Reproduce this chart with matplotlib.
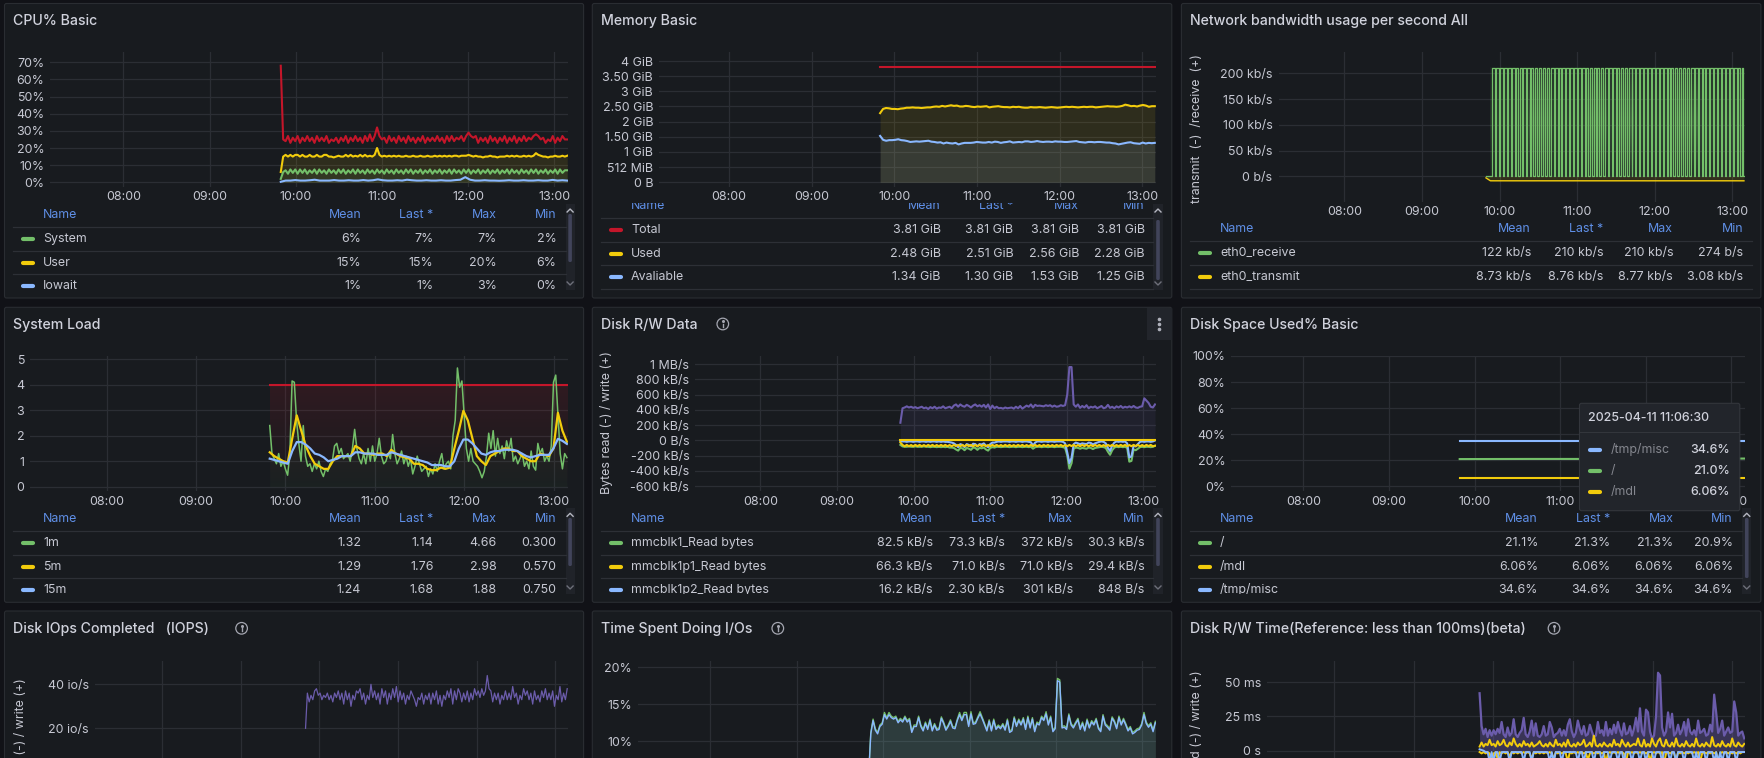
import numpy as np
import matplotlib
matplotlib.use("Agg")
import matplotlib.pyplot as plt
from matplotlib.patches import Circle, FancyBboxPatch, Rectangle

plt.rcParams['font.family'] = ['Inter', 'DejaVu Sans']

W, H = 1765, 758
PAGE = '#111217'
PANEL = '#181b1f'
BORDER = '#2a2d32'
GRID = '#2b2e34'
TEXT = '#c6c8d2'
TITLE = '#d0d2dc'
HEADER = '#5f8fe6'
DIVIDER = '#2d3036'
GREEN, YELLOW, BLUE, RED, PURPLE = '#73bf69', '#f2cc0c', '#8ab8ff', '#c4162a', '#6b5cab'
FONT = 8.95

START, END = 9.826, 13.15

hour_ticks = [8, 9, 10, 11, 12, 13]
hour_labels = ['08:00', '09:00', '10:00', '11:00', '12:00', '13:00']

# CPU% Basic
cpu_ticks = [0, 10, 20, 30, 40, 50, 60, 70]
cpu_tick_labels = ['0%', '10%', '20%', '30%', '40%', '50%', '60%', '70%']
cpu_busy = [68, 25, 24, 27, 23, 26, 24, 27, 23, 26,
            24, 27, 24, 26, 23, 27, 24, 26, 24, 27,
            23, 25, 24, 26, 23, 26, 24, 27, 23, 26,
            24, 27, 24, 26, 23, 27, 24, 28, 24, 27,
            32, 27, 25, 26, 23, 27, 24, 26, 23, 27,
            24, 26, 23, 27, 24, 26, 23, 26, 24, 27,
            23, 26, 24, 26, 24, 27, 24, 26, 23, 27,
            24, 27, 24, 26, 25, 27, 24, 27, 29, 27,
            26, 27, 23, 26, 24, 26, 23, 27, 24, 26,
            23, 26, 24, 27, 23, 26, 24, 27, 23, 26,
            24, 27, 24, 26, 25, 27, 28, 27, 25, 26,
            23, 25, 24, 27, 23, 26, 24, 27, 25, 25]
cpu_user = [6, 15, 16, 15, 16, 15, 16, 16, 15, 16,
            15, 15, 16, 15, 15, 16, 15, 15, 16, 16,
            15, 15, 14.5, 15, 15.5, 15, 15, 16, 15, 16,
            15, 15.5, 15, 16, 15, 16, 15, 15.5, 15, 16,
            20, 16, 15, 15.5, 15, 15.5, 15, 15.5, 15, 15.5,
            15, 15, 15.5, 15, 15, 15.5, 15, 15, 15.5, 15,
            15, 15.5, 15, 15, 15.5, 15, 15.5, 15, 15.5, 15,
            15.5, 15, 15.5, 15.5, 15, 15.5, 15.5, 15.5, 16, 15.5,
            15, 15.5, 15, 15, 14.5, 15, 15, 15.5, 15, 15,
            14.5, 15, 15, 15, 15.5, 15, 15.5, 15, 15.5, 15,
            15, 15.5, 15, 15.5, 15, 15.5, 17, 16, 15.5, 15,
            15, 14.5, 15, 15, 15.5, 15, 15, 15.5, 15, 15.5]
cpu_system = [2, 6, 7, 5, 7.5, 5.5, 7.5, 5, 7.5, 5.5,
              7.5, 5, 7, 5.5, 7.5, 5, 7.5, 5.5, 7, 5,
              7.5, 5.5, 7, 5, 7.5, 5.5, 7.5, 5, 7, 5.5,
              7.5, 5, 7.5, 5.5, 7, 5, 7.5, 5.5, 7, 5,
              7.5, 5.5, 7, 5, 7.5, 5.5, 7, 5, 7.5, 5.5,
              7, 5, 7.5, 5.5, 7.5, 5, 7, 5.5, 7.5, 5,
              7, 5.5, 7.5, 5, 7, 5.5, 7.5, 5, 7, 5.5,
              7.5, 5, 7.5, 5.5, 7, 5, 7.5, 5.5, 7.5, 5,
              7, 5.5, 7.5, 5, 7, 5.5, 7.5, 5, 7, 5.5,
              7.5, 5, 7, 5.5, 7.5, 5, 7.5, 5.5, 7, 5,
              7.5, 5.5, 7, 5, 7.5, 5.5, 7.5, 5, 7, 5.5,
              7.5, 5, 7, 5.5, 7.5, 5, 7.5, 5.5, 7, 7]
cpu_iowait = [0.3, 1, 1, 1.3, 1, 1, 1.2, 1.5, 1, 1,
              1, 1.3, 1, 1, 1.2, 1, 1, 1.3, 1, 1.2,
              1.7, 1.2, 1, 1, 1.2, 1, 1.5, 1.2, 1, 1,
              1.2, 1, 1, 1.2, 1, 1, 1.3, 1.5, 3, 1.5,
              1, 1, 1.2, 1, 1, 0.9, 1, 1.2, 1, 1,
              1.2, 1, 1, 1.2, 1, 1, 1.4, 1, 1.2, 1]
cpu_names = ['System', 'User', 'Iowait']
cpu_stats = [['6%', '7%', '7%', '2%'], ['15%', '15%', '20%', '6%'], ['1%', '1%', '3%', '0%']]

# Memory Basic
mem_ticks = [0, 0.5, 1, 1.5, 2, 2.5, 3, 3.5, 4]
mem_tick_labels = ['0 B', '512 MiB', '1 GiB', '1.50 GiB', '2 GiB', '2.50 GiB', '3 GiB', '3.50 GiB', '4 GiB']
mem_total = [3.81, 3.81]
mem_used = [2.28, 2.42, 2.45, 2.44, 2.42, 2.42, 2.41, 2.43, 2.44, 2.46,
            2.46, 2.47, 2.46, 2.46, 2.45, 2.46, 2.47, 2.47, 2.49, 2.5,
            2.49, 2.52, 2.5, 2.52, 2.54, 2.52, 2.53, 2.5, 2.5, 2.52,
            2.51, 2.49, 2.48, 2.5, 2.49, 2.5, 2.51, 2.47, 2.49, 2.5,
            2.51, 2.49, 2.48, 2.48, 2.47, 2.49, 2.48, 2.49, 2.47, 2.46,
            2.46, 2.48, 2.47, 2.47, 2.48, 2.47, 2.46, 2.47, 2.48, 2.47,
            2.46, 2.47, 2.48, 2.49, 2.48, 2.49, 2.48, 2.47, 2.48, 2.49,
            2.48, 2.49, 2.49, 2.47, 2.48, 2.49, 2.5, 2.51, 2.5, 2.5,
            2.49, 2.5, 2.52, 2.56, 2.54, 2.51, 2.52, 2.5, 2.53, 2.55,
            2.53, 2.49, 2.51, 2.51]
mem_avail = [1.53, 1.4, 1.37, 1.39, 1.39, 1.4, 1.42, 1.39, 1.38, 1.36,
             1.33, 1.34, 1.35, 1.34, 1.35, 1.36, 1.37, 1.34, 1.33, 1.31,
             1.32, 1.28, 1.31, 1.29, 1.28, 1.3, 1.25, 1.28, 1.3, 1.3,
             1.3, 1.31, 1.33, 1.32, 1.31, 1.31, 1.33, 1.31, 1.34, 1.33,
             1.3, 1.32, 1.33, 1.35, 1.31, 1.32, 1.33, 1.32, 1.35, 1.35,
             1.33, 1.34, 1.36, 1.34, 1.33, 1.34, 1.34, 1.33, 1.35, 1.34,
             1.34, 1.33, 1.33, 1.34, 1.35, 1.36, 1.33, 1.32, 1.31, 1.33,
             1.33, 1.32, 1.33, 1.33, 1.32, 1.31, 1.31, 1.29, 1.28, 1.25,
             1.27, 1.29, 1.31, 1.32, 1.29, 1.28, 1.27, 1.31, 1.28, 1.3,
             1.29, 1.3]
mem_names = ['Total', 'Used', 'Avaliable']
mem_stats = [['3.81 GiB', '3.81 GiB', '3.81 GiB', '3.81 GiB'],
             ['2.48 GiB', '2.51 GiB', '2.56 GiB', '2.28 GiB'],
             ['1.34 GiB', '1.30 GiB', '1.53 GiB', '1.25 GiB']]

# Network bandwidth
net_ticks = [0, 50, 100, 150, 200]
net_tick_labels = ['0 b/s', '50 kb/s', '100 kb/s', '150 kb/s', '200 kb/s']
net_receive = [0, 0, 0, 0, 0, 0, 0, 210, 210, 210, 0, 210, 210, 210, 0, 210, 210, 210, 0, 210, 210, 210,
               0, 210, 210, 210, 0, 210, 210, 210, 0, 210, 210, 0, 0, 210, 210, 0, 0, 210, 210, 210,
               0, 210, 210, 210, 0, 210, 210, 0, 0, 210, 210, 0, 0, 210, 210, 0,
               0, 210, 210, 0, 0, 210, 210, 0, 0, 210, 210, 210, 0, 210, 210, 210,
               0, 210, 210, 210, 0, 210, 210, 210, 0, 210, 210, 210, 0, 210, 210, 210,
               0, 210, 210, 210, 0, 210, 210, 210, 0, 210, 210, 210, 0, 210, 210, 0,
               0, 210, 210, 0, 0, 210, 210, 0, 0, 210, 210, 0, 0, 210, 210, 0,
               0, 210, 210, 210, 0, 210, 210, 210, 0, 210, 210, 210, 0, 210, 210, 0,
               0, 210, 210, 0, 0, 210, 210, 0, 0, 210, 210, 210, 0, 210, 210, 210,
               0, 210, 210, 210, 0, 210, 210, 210, 0, 210, 210, 210, 0, 210, 210, 210,
               0, 210, 210, 210, 0, 210, 210, 210, 0, 210, 210, 210, 0, 210, 210, 210,
               0, 210, 210, 210, 0, 210, 210, 0, 0, 210, 210, 0, 0, 210, 210, 0,
               0, 210, 210, 0, 0, 210, 210, 0, 0, 210, 210, 210, 0, 210, 210, 210,
               0, 210, 210, 210, 0, 210, 210, 210, 0, 210, 210, 210, 0, 210, 210, 210,
               0, 210, 210, 210, 0, 210, 210, 210, 0, 210, 210, 210, 0, 210, 210, 210,
               0, 210, 210, 210, 0, 210, 210, 210, 0, 210, 210, 0, 0, 210, 210, 0]
net_transmit = [-3.08, -8.7, -8.73, -8.73, -8.72, -8.73, -8.73, -8.73, -8.74, -8.73,
                -8.73, -8.73, -8.72, -8.73, -8.73, -8.74, -8.73, -8.73, -8.73, -8.73,
                -8.73, -8.72, -8.73, -8.73, -8.73, -8.74, -8.73, -8.73, -8.73, -8.73,
                -8.73, -8.73, -8.72, -8.73, -8.73, -8.74, -8.73, -8.77, -8.73, -8.73,
                -8.73, -8.74, -8.73, -8.73, -8.72, -8.73, -8.73, -8.73, -8.74, -8.73,
                -8.73, -8.72, -8.73, -8.73, -8.74, -8.73, -8.73, -8.73, -8.75, -8.76]
net_names = ['eth0_receive', 'eth0_transmit']
net_stats = [['122 kb/s', '210 kb/s', '210 kb/s', '274 b/s'],
             ['8.73 kb/s', '8.76 kb/s', '8.77 kb/s', '3.08 kb/s']]

# System Load
load_ticks = [0, 1, 2, 3, 4, 5]
load_tick_labels = ['0', '1', '2', '3', '4', '5']
load_cores = [4, 4]
load_1m = [2.4, 1.3, 1.1, 0.9, 1.3, 0.8, 1.0, 0.7, 0.45, 1.3,
           4.15, 4.1, 2.6, 1.7, 1.0, 2.4, 1.2, 0.8, 0.9, 0.6,
           0.9, 0.7, 1.0, 0.6, 0.4, 0.7, 0.6, 0.9, 1.0, 1.6,
           1.7, 1.3, 1.5, 1.1, 1.2, 1.3, 1.0, 1.5, 2.25, 1.5,
           1.1, 0.9, 1.3, 0.9, 1.5, 1.0, 1.6, 1.0, 1.3, 1.9,
           1.2, 0.9, 1.0, 1.3, 1.1, 2.05, 1.3, 0.9, 1.1, 1.4,
           0.9, 1.2, 0.8, 1.1, 0.5, 0.8, 1.2, 0.9, 0.6, 0.7,
           0.8, 0.4, 0.7, 0.5, 0.9, 0.6, 1.0, 1.3, 0.7, 0.9,
           1.0, 0.7, 2.0, 2.6, 4.66, 3.9, 4.15, 2.8, 1.5, 1.0,
           1.5, 1.0, 0.9, 0.8, 0.6, 0.35, 0.6, 1.2, 2.1, 1.5,
           2.2, 1.2, 1.9, 1.3, 1.6, 1.1, 1.8, 1.4, 1.9, 1.0,
           1.2, 0.9, 1.1, 1.3, 0.8, 1.0, 0.7, 1.4, 0.8, 0.65,
           1.7, 1.3, 1.5, 1.0, 1.2, 1.0, 1.6, 4.1, 4.38, 2.8,
           1.3, 0.7, 1.3, 1.14]
load_5m = [1.35, 1.2, 1.1, 1.0, 0.95, 1.9, 2.8, 2.2, 1.6, 1.2,
           0.9, 0.8, 0.7, 0.7, 1.0, 1.2, 1.2, 1.2, 1.2, 1.6,
           1.5, 1.3, 1.3, 1.25, 1.3, 1.3, 1.2, 1.45, 1.3, 1.2,
           1.15, 1.1, 0.9, 0.9, 0.85, 0.7, 0.65, 0.65, 0.75, 0.7,
           0.75, 1.5, 2.2, 2.98, 2.6, 1.9, 1.2, 1.0, 0.85, 1.2,
           1.3, 1.4, 1.5, 1.5, 1.4, 1.4, 1.2, 1.1, 1.0, 1.0,
           1.3, 1.25, 1.2, 1.5, 2.9, 2.2, 1.76]
load_15m = [1.1, 1.05, 1.0, 0.95, 0.9, 1.4, 1.75, 1.75, 1.65, 1.5,
            1.3, 1.25, 1.15, 1.0, 1.05, 1.1, 1.2, 1.2, 1.2, 1.35,
            1.35, 1.3, 1.3, 1.3, 1.25, 1.25, 1.25, 1.35, 1.3, 1.25,
            1.2, 1.15, 1.1, 1.05, 1.0, 0.95, 0.85, 0.85, 0.85, 0.8,
            0.8, 1.0, 1.5, 1.85, 1.85, 1.7, 1.5, 1.3, 1.25, 1.35,
            1.4, 1.4, 1.45, 1.45, 1.45, 1.4, 1.3, 1.2, 1.15, 1.2,
            1.25, 1.25, 1.25, 1.5, 1.88, 1.8, 1.68]
load_names = ['1m', '5m', '15m']
load_stats = [['1.32', '1.14', '4.66', '0.300'], ['1.29', '1.76', '2.98', '0.570'], ['1.24', '1.68', '1.88', '0.750']]

# Disk R/W Data, kB/s
rw_ticks = [-600, -400, -200, 0, 200, 400, 600, 800, 1000]
rw_tick_labels = ['-600 kB/s', '-400 kB/s', '-200 kB/s', '0 B/s', '200 kB/s', '400 kB/s', '600 kB/s', '800 kB/s', '1 MB/s']
rw_write = [230, 420, 430, 445, 430, 440, 425, 435, 420, 430,
            440, 420, 430, 410, 435, 420, 440, 415, 430, 425,
            445, 420, 430, 440, 420, 455, 470, 440, 470, 450,
            440, 465, 450, 430, 455, 470, 445, 460, 440, 465,
            430, 470, 410, 455, 420, 440, 420, 425, 415, 430,
            420, 425, 430, 415, 440, 420, 450, 415, 435, 455,
            440, 470, 430, 465, 450, 455, 450, 445, 460, 450,
            460, 440, 455, 440, 445, 460, 450, 460, 600, 960,
            960, 470, 440, 470, 425, 450, 430, 460, 420, 440,
            430, 445, 420, 435, 450, 420, 430, 465, 425, 440,
            420, 445, 430, 450, 425, 440, 430, 445, 430, 450,
            430, 425, 440, 445, 550, 520, 490, 440, 430, 470]
rw_read_disk = [-60, -80, -85, -85, -80, -85, -85, -80, -85, -85,
                -85, -80, -85, -85, -90, -85, -85, -90, -85, -90,
                -85, -90, -85, -95, -95, -100, -120, -135, -100, -105,
                -130, -100, -110, -125, -95, -100, -125, -100, -105, -95,
                -120, -135, -100, -90, -95, -85, -85, -90, -85, -85,
                -85, -90, -85, -85, -90, -85, -85, -90, -85, -85,
                -90, -85, -110, -90, -85, -85, -90, -85, -85, -90,
                -85, -85, -90, -85, -85, -85, -90, -100, -200, -372,
                -300, -110, -95, -100, -110, -100, -105, -110, -95, -100,
                -115, -100, -95, -90, -85, -90, -100, -150, -190, -130,
                -95, -85, -90, -85, -90, -85, -100, -280, -270, -120,
                -130, -110, -90, -85, -90, -85, -85, -90, -85, -73]
rw_read_p2 = [-10, -15, -15, -20, -15, -15, -20, -15, -15, -20,
              -15, -15, -20, -15, -20, -15, -15, -20, -15, -20,
              -15, -20, -20, -25, -30, -40, -60, -90, -50, -60,
              -90, -50, -60, -80, -45, -50, -80, -50, -55, -40,
              -70, -90, -50, -30, -30, -20, -15, -20, -15, -15,
              -15, -20, -15, -15, -20, -15, -15, -20, -15, -15,
              -20, -25, -70, -30, -15, -15, -20, -15, -15, -20,
              -15, -15, -20, -15, -15, -15, -20, -40, -160, -301,
              -230, -50, -30, -40, -50, -40, -45, -50, -30, -35,
              -55, -40, -30, -20, -15, -20, -40, -100, -140, -70,
              -30, -15, -20, -15, -20, -15, -40, -225, -210, -70,
              -80, -50, -20, -15, -20, -15, -15, -20, -15, -2]
rw_read_p1 = [-29, -60, -78, -60, -78, -62, -78, -60, -76, -60,
              -78, -62, -78, -60, -76, -60, -78, -62, -78, -60,
              -76, -60, -78, -62, -78, -60, -76, -60, -78, -62,
              -78, -60, -76, -60, -78, -62, -78, -60, -76, -60,
              -78, -62, -78, -60, -76, -60, -78, -62, -78, -60,
              -76, -60, -78, -62, -78, -60, -76, -60, -78, -62,
              -78, -60, -76, -60, -78, -62, -78, -60, -76, -60,
              -78, -62, -78, -60, -76, -60, -78, -62, -78, -60,
              -76, -60, -78, -62, -78, -60, -76, -60, -78, -62,
              -78, -60, -76, -60, -78, -62, -78, -60, -76, -60,
              -78, -62, -78, -60, -76, -60, -78, -62, -78, -60,
              -76, -60, -78, -62, -78, -60, -76, -60, -78, -71]
rw_zero_line = [0, 0]
rw_names = ['mmcblk1_Read bytes', 'mmcblk1p1_Read bytes', 'mmcblk1p2_Read bytes']
rw_stats = [['82.5 kB/s', '73.3 kB/s', '372 kB/s', '30.3 kB/s'],
            ['66.3 kB/s', '71.0 kB/s', '71.0 kB/s', '29.4 kB/s'],
            ['16.2 kB/s', '2.30 kB/s', '301 kB/s', '848 B/s']]

# Disk Space Used%
space_ticks = [0, 20, 40, 60, 80, 100]
space_tick_labels = ['0%', '20%', '40%', '60%', '80%', '100%']
space_root = [20.9, 21.0, 21.0, 21.1, 21.3]
space_mdl = [6.06, 6.06]
space_tmp = [34.6, 34.6]
space_names = ['/', '/mdl', '/tmp/misc']
space_stats = [['21.1%', '21.3%', '21.3%', '20.9%'],
               ['6.06%', '6.06%', '6.06%', '6.06%'],
               ['34.6%', '34.6%', '34.6%', '34.6%']]
tooltip_time = '2025-04-11 11:06:30'
tooltip_names = ['/tmp/misc', '/', '/mdl']
tooltip_values = ['34.6%', '21.0%', '6.06%']

# Disk IOps Completed
iops_ticks = [20, 40]
iops_tick_labels = ['20 io/s', '40 io/s']
iops_write = [20, 36, 32, 35, 33, 37, 38, 35, 36, 33,
              35, 34, 36, 33, 35, 32, 36, 34, 37, 33,
              36, 31, 37, 33, 36, 30, 35, 33, 37, 36,
              38, 33, 36, 31, 35, 33, 40, 34, 37, 33,
              36, 31, 38, 34, 37, 31, 36, 33, 38, 34,
              39, 32, 37, 33, 36, 31, 35, 33, 37, 35,
              33, 30, 34, 33, 36, 31, 35, 33, 36, 31,
              36, 33, 37, 31, 35, 30, 35, 33, 37, 34,
              38, 31, 37, 33, 38, 36, 32, 36, 33, 37,
              32, 36, 33, 38, 35, 37, 34, 38, 35, 37,
              44, 38, 37, 32, 36, 33, 36, 31, 35, 33,
              37, 33, 36, 33, 39, 34, 36, 31, 35, 33,
              38, 35, 37, 33, 36, 31, 37, 33, 35, 32,
              37, 34, 38, 33, 36, 33, 37, 30, 35, 33,
              39, 32, 36, 33, 38]
io_ylabel = 'IO read (-) / write (+)'

# Time Spent Doing I/Os
busy_ticks = [10, 15, 20]
busy_tick_labels = ['10%', '15%', '20%']
busy_p2 = [5, 11, 12.8, 11.5, 11, 12, 12.3, 13.6, 13, 13.6,
           13.2, 13, 13.2, 12.5, 12.9, 12.6, 13.2, 12.6, 12.9, 11.2,
           12, 12, 13.2, 12, 11.4, 12.4, 11.6, 12.8, 11.4, 12.2,
           11.5, 11.6, 13.1, 12.4, 11.5, 12, 12.7, 11.8, 11.7, 12.8,
           13.6, 12.8, 13.6, 13.6, 12, 13.7, 12.3, 12.4, 13.1, 13.7,
           13, 12.2, 11.4, 12.7, 11.4, 12.8, 11.6, 12, 11.7, 12.2,
           11.5, 12.8, 11.2, 11.4, 13.1, 12, 12.8, 12.2, 13, 11.6,
           13.2, 11.8, 13, 11.3, 12.4, 12.2, 13.2, 12.8, 13.7, 12.2,
           13.2, 11.3, 11.7, 18.2, 18, 11.8, 11.9, 11.6, 13.5, 12.2,
           11.8, 12.4, 12.9, 11.6, 12.4, 11.4, 12.8, 11.8, 12.6, 12.2,
           12.9, 11.7, 11.3, 13.4, 12.2, 11.9, 11.5, 13.1, 12.6, 11.7,
           13.2, 12.2, 12.9, 12.2, 11.4, 11.8, 11, 11.2, 11.5, 11.6,
           12.2, 13.6, 12.4, 11.9, 12.3, 11.3, 12.5]
busy_disk = [5.2, 11.2, 13, 11.7, 11.2, 12.2, 12.5, 13.9, 13.2, 13.9,
             13.4, 13.2, 13.4, 12.7, 13.1, 12.8, 13.4, 12.8, 13.1, 11.4,
             12.2, 12.2, 13.4, 12.2, 11.6, 12.6, 11.8, 13, 11.6, 12.4,
             11.7, 11.8, 13.3, 12.6, 11.7, 12.2, 12.9, 12, 11.9, 13,
             13.9, 13, 13.9, 13.9, 12.2, 14, 12.5, 12.6, 13.3, 14,
             13.2, 12.4, 11.6, 12.9, 11.6, 13, 11.8, 12.2, 11.9, 12.4,
             11.7, 13, 11.4, 11.6, 13.3, 12.2, 13, 12.4, 13.2, 11.8,
             13.4, 12, 13.2, 11.5, 12.6, 12.4, 13.4, 13, 14, 12.4,
             13.4, 11.5, 11.9, 18.5, 18.3, 12, 12.1, 11.8, 13.7, 12.4,
             12, 12.6, 13.1, 11.8, 12.6, 11.6, 13, 12, 12.8, 12.4,
             13.1, 11.9, 11.5, 13.6, 12.4, 12.1, 11.7, 13.3, 12.8, 11.9,
             13.4, 12.4, 13.1, 12.4, 11.6, 12, 11.2, 11.4, 11.7, 11.8,
             12.4, 13.9, 12.6, 12.1, 12.5, 11.5, 12.7]

# Disk R/W Time, ms
lat_ticks = [0, 25, 50]
lat_tick_labels = ['0 s', '25 ms', '50 ms']
lat_write = [42, 18, 12, 16, 10, 15, 11, 15, 12, 16,
             13, 21, 12, 10, 17, 11, 13, 23, 12, 10,
             13, 15, 24, 12, 10, 14, 22, 11, 20, 11,
             10, 12, 18, 11, 12, 21, 17, 10, 12, 13,
             16, 11, 15, 11, 19, 23, 14, 10, 13, 22,
             16, 12, 18, 11, 12, 19, 14, 10, 11, 21,
             13, 15, 11, 21, 11, 16, 12, 19, 13, 21,
             15, 11, 20, 12, 13, 18, 11, 16, 24, 14,
             31, 14, 11, 30, 28, 14, 9, 11, 25, 57,
             55, 17, 11, 14, 28, 17, 27, 11, 13, 19,
             12, 15, 21, 11, 23, 14, 12, 15, 11, 22,
             13, 14, 16, 11, 12, 19, 14, 41, 28, 13,
             16, 22, 11, 14, 17, 13, 14, 36, 28, 11,
             13, 14, 9]
lat_write_p1 = [3, 6, 3, 5, 4, 8, 4, 5, 3, 7,
                4, 5, 8, 4, 3, 6, 4, 9, 5, 3,
                5, 3, 7, 4, 5, 3, 6, 3, 4, 5,
                7, 4, 3, 5, 3, 6, 4, 3, 8, 4,
                5, 3, 6, 3, 8, 4, 3, 5, 3, 6,
                4, 5, 8, 3, 4, 6, 3, 11, 4, 3,
                5, 3, 6, 4, 3, 5, 3, 8, 4, 5,
                3, 8, 5, 3, 6, 3, 4, 5, 4, 9,
                4, 3, 8, 3, 5, 3, 9, 5, 3, 7,
                9, 4, 3, 8, 4, 3, 6, 3, 9, 4,
                3, 5, 3, 7, 4, 3, 5, 3, 9, 4,
                3, 5, 3, 6, 4, 3, 10, 4, 3, 5,
                3, 7, 4, 3, 5, 3, 9, 4, 3, 6,
                4, 3, 5]
lat_read_p1 = [-1, -2, -1, -2, -1, -2, -8, -2, -1, -6,
               -1, -2, -1, -2, -1, -4, -1, -2, -1, -2,
               -1, -2, -1, -2, -1, -2, -6, -1, -2, -1,
               -2, -1, -2, -1, -2, -1, -2, -6, -1, -2,
               -1, -2, -1, -2, -8, -1, -2, -1, -2, -1,
               -2, -1, -2, -1, -7, -2, -1, -2, -1, -2,
               -1, -2, -1, -9, -2, -1, -2, -1, -2, -1,
               -2, -1, -2, -9, -1, -2, -1, -2, -1, -2,
               -1, -2, -1, -2, -1, -8, -2, -1, -2, -1,
               -2, -1, -9, -2, -1, -2, -1, -2, -7, -1,
               -2, -1, -2, -1, -2, -1, -2, -1, -2, -1,
               -8, -2, -1, -2, -1, -2, -1, -2, -1, -9,
               -2, -1, -2, -1, -2, -1, -2, -1, -2, -1,
               -2, -1, -1]
lat_read = [1, 0.5, 0, -1, -1, -8, -1, -8, -1, -1,
            -8, -1, -1, -1, -1, -8, -1, -1, -1, -1,
            -1, -1, -8, -1, -1, -1, -8, -1, -1, -1,
            -1, -1, -1, -1, -1, -8, -1, -8, -1, -1,
            -1, -8, -1, -1, -1, -1, -1, -1, -1, -8,
            -1, -1, -8, -1, -1, -1, -1, -8, -1, -1,
            -1, -8, -1, -1, -1, -8, -1, -1, -1, -8,
            -1, -1, -8, -1, -1, -1, -8, -1, -1, -1,
            -8, -1, -1, -8, -1, -1, -1, -8, -1, -1,
            -1, -8, -1, -1, -1, -8, -1, -1, -8, -1,
            -1, -1, -8, -1, -1, -1, -1, -8, -1, -8,
            -1, -1, -1, -8, -1, -1, -1, -8, -1, -8,
            -1, -8, -1, -1, -8, -1, -1, -1, -8, -1,
            -1, -1, -1]
lat_ylabel = 'Read (-) / write (+)'


fig = plt.figure(figsize=(W / 100, H / 100), dpi=100, facecolor=PAGE)
canvas = fig.add_axes([0, 0, 1, 1], zorder=0)
canvas.set_xlim(0, W)
canvas.set_ylim(H, 0)
canvas.axis('off')
top_layer = fig.add_axes([0, 0, 1, 1], zorder=5)
top_layer.set_xlim(0, W)
top_layer.set_ylim(H, 0)
top_layer.axis('off')
top_layer.patch.set_alpha(0)


def panel(left, right, top, bottom, title, title_x, title_y):
    canvas.add_patch(FancyBboxPatch((left, top), right - left, bottom - top, boxstyle='round,pad=0,rounding_size=2',
                                    fc=PANEL, ec=BORDER, lw=0.8))
    canvas.text(title_x, title_y + 0.8, title, color=TITLE, fontsize=10.2, fontweight=500, va='center', ha='left')


def plot_axes(left, right, top, bottom, x_cal, y_cal, yticks, ylabels, xlabels=True, ylabel_pad=4.4):
    ax = fig.add_axes([left / W, 1 - bottom / H, (right - left) / W, (bottom - top) / H], zorder=2)
    ax.patch.set_alpha(0)
    for s in ax.spines.values():
        s.set_visible(False)
    (px8, px13) = x_cal
    per_hour = (px13 - px8) / 5
    ax.set_xlim(8 + (left - px8) / per_hour, 8 + (right - px8) / per_hour)
    (v1, p1), (v2, p2) = y_cal
    per_px = (v2 - v1) / (p1 - p2)
    ax.set_ylim(v1 - (bottom - p1) * per_px, v1 + (p1 - top) * per_px)
    ax.set_xticks(hour_ticks)
    ax.set_xticklabels(hour_labels if xlabels else [])
    ax.set_yticks(yticks)
    ax.set_yticklabels(ylabels)
    ax.tick_params(length=0, labelsize=FONT, labelcolor=TEXT)
    ax.tick_params(axis='x', pad=3.4)
    ax.tick_params(axis='y', pad=ylabel_pad)
    ax.grid(True, color=GRID, lw=0.9)
    ax.set_axisbelow(True)
    return ax


def series(ax, values, color, lw=1.5, start=START, end=END, fill=None, zorder=3, step=False):
    t = np.linspace(start, end, len(values))
    ax.plot(t, values, color=color, lw=lw, zorder=zorder, solid_joinstyle='round',
            drawstyle='steps-mid' if step else 'default')
    if fill:
        ax.fill_between(t, values, 0, color=color, alpha=fill, lw=0, zorder=2)


def gradient(ax, color, x0, x1, y0, y1, alphas):
    rgba = np.zeros((64, 1, 4))
    rgba[:, 0, :3] = matplotlib.colors.to_rgb(color)
    rgba[:, 0, 3] = np.interp(np.linspace(0, 1, 64), np.linspace(0, 1, len(alphas)), alphas)
    xl, yl = ax.get_xlim(), ax.get_ylim()
    ax.imshow(rgba, extent=[x0, x1, y0, y1], aspect='auto', zorder=1.5, interpolation='bilinear', origin='upper')
    ax.set_xlim(xl)
    ax.set_ylim(yl)


def legend_table(name_x, swatch_x, rights, header_y, rows_y, lines_y, x0, x1, names, colors, stats, clip=None):
    clip_rect = None
    if clip:
        clip_rect = Rectangle((x0 - 20, clip[0]), x1 - x0 + 40, clip[1] - clip[0], transform=canvas.transData)

    def put(x, y, s, color, ha):
        txt = canvas.text(x, y, s, color=color, fontsize=FONT, va='center', ha=ha)
        if clip_rect is not None:
            txt.set_clip_path(clip_rect)
            txt.set_clip_on(True)

    put(name_x, header_y, 'Name', HEADER, 'left')
    for x, label in zip(rights, ['Mean', 'Last *', 'Max', 'Min']):
        put(x, header_y, label, HEADER, 'right')
    for y in lines_y:
        canvas.plot([x0, x1], [y, y], color=DIVIDER, lw=0.9)
    for y, name, color, row in zip(rows_y, names, colors, stats):
        canvas.plot([swatch_x + 2, swatch_x + 12], [y, y], color=color, lw=3, solid_capstyle='round')
        put(name_x, y, name, TEXT, 'left')
        for x, value in zip(rights, row):
            put(x, y, value, TEXT, 'right')


def scrollbar(x0, x1, top, bottom, thumb_top, thumb_bottom):
    canvas.add_patch(Rectangle((x0, top), x1 - x0, bottom - top, fc='#202329', ec='none'))
    mid = (x0 + x1) / 2
    canvas.add_patch(FancyBboxPatch((mid - 1.8, thumb_top), 3.6, thumb_bottom - thumb_top,
                                    boxstyle='round,pad=0,rounding_size=1.5', fc='#41445a', ec='none'))
    canvas.plot([mid - 3, mid, mid + 3], [top + 8, top + 5, top + 8], color='#b5b7c1', lw=1)
    canvas.plot([mid - 3, mid, mid + 3], [bottom - 8, bottom - 5, bottom - 8], color='#6d6f79', lw=1)


def info_icon(x, y):
    canvas.add_patch(Circle((x, y), 5.8, fc='none', ec='#a4a6b0', lw=0.9))
    canvas.plot([x, x], [y - 0.5, y + 2.7], color='#a4a6b0', lw=1)
    canvas.plot([x], [y - 2.6], marker='o', ms=1.2, color='#a4a6b0')


def rotated_label(x, top, s):
    canvas.text(x, top, s, color=TEXT, fontsize=FONT, rotation=90, ha='center', va='top')


# panel frames
panel(4.5, 583.6, 3.5, 298, 'CPU% Basic', 13.3, 20)
panel(592.3, 1171.8, 3.5, 298, 'Memory Basic', 601.3, 20)
panel(1181.4, 1760.9, 3.5, 298, 'Network bandwidth usage per second All', 1190.4, 20)
panel(4.5, 583.6, 307.3, 602.3, 'System Load', 13.3, 324)
panel(592.3, 1171.8, 307.3, 602.3, 'Disk R/W Data', 601.3, 324)
panel(1181.4, 1760.9, 307.3, 602.3, 'Disk Space Used% Basic', 1190.4, 324)
panel(4.5, 583.6, 611, 790, 'Disk IOps Completed\u00a0\u00a0\u00a0(IOPS)', 13.3, 628.3)
panel(592.3, 1171.8, 611, 790, 'Time Spent Doing I/Os', 601.3, 628.3)
panel(1181.4, 1760.9, 611, 790, 'Disk R/W Time(Reference: less than 100ms)(beta)', 1190.4, 628.3)

info_icon(722.8, 324)
info_icon(241.6, 628.3)
info_icon(777.8, 628.3)
info_icon(1554, 628.3)

# hover menu on the Disk R/W Data panel
canvas.add_patch(Rectangle((1147, 307.8), 24.6, 32.2, fc='#22252b', ec='none'))
canvas.plot([1159, 1159, 1159], [319, 324, 329], ls='', marker='o', ms=1.6, color='#aeb0ba')

# CPU
ax = plot_axes(50.4, 567.5, 52.3, 186.7, (123.4, 554.3), ((0, 182.3), (70, 62.3)), cpu_ticks, cpu_tick_labels)
series(ax, cpu_busy, RED)
series(ax, cpu_user, YELLOW, fill=0.1)
series(ax, cpu_system, GREEN, fill=0.07)
series(ax, cpu_iowait, BLUE)
legend_table(43.3, 21.4, [361.2, 433.5, 497, 556.5], 215, [239, 262.7, 285.7], [227.3, 251.3, 274.3], 13.2, 565.6,
             cpu_names, [GREEN, YELLOW, BLUE], cpu_stats)
scrollbar(565.6, 574.6, 204, 290, 214, 262)

# Memory
ax = plot_axes(659.2, 1155.6, 52.3, 186.7, (729.2, 1142.4), ((0, 182.3), (4, 61)), mem_ticks, mem_tick_labels)
series(ax, mem_total, RED)
series(ax, mem_used, YELLOW, fill=0.1)
series(ax, mem_avail, BLUE, fill=0.1)
legend_table(631, 608.8, [940.7, 1013.3, 1079.2, 1144.7], 205.7, [229.7, 253.7, 276.7], [218.3, 242.3, 265.3, 289.3], 601, 1153.3,
             mem_names, [RED, YELLOW, BLUE], mem_stats, clip=(202.5, 300))
scrollbar(1153.3, 1162.7, 204, 290, 220, 280)

# Network
ax = plot_axes(1278.5, 1745, 52.3, 201.7, (1344.3, 1732.3), ((0, 176.3), (200, 73.3)), net_ticks, net_tick_labels)
gradient(ax, GREEN, 9.88, END, 0, 210, [0.05, 0.16, 0.05])
for glow_start, glow_end in [(10.38, 10.66), (11.13, 11.38), (11.55, 11.72), (12.27, 12.55)]:
    gradient(ax, GREEN, glow_start, glow_end, 0, 210, [0.0, 0.28, 0.0])
series(ax, net_receive, GREEN, lw=0.9, step=True)
series(ax, net_transmit, YELLOW, lw=1, fill=0.12)
rotated_label(1196.8, 54, 'transmit\u00a0\u00a0(-)\u00a0\u00a0/receive\u00a0\u00a0(+)')
legend_table(1220.2, 1198.3, [1531, 1603.2, 1673.2, 1743.6], 228.7, [252.7, 276.7], [241.3, 265.3, 289.3], 1190.4, 1751.9,
             net_names, [GREEN, YELLOW], net_stats)

# System Load
ax = plot_axes(30.5, 567.5, 356, 491, (106.5, 553.5), ((0, 486.7), (5, 359.3)), load_ticks, load_tick_labels)
gradient(ax, RED, START, END, 0, 4, [0.14, 0.0])
series(ax, load_cores, RED)
series(ax, load_1m, GREEN, lw=1.1, zorder=3.1, fill=0.04)
series(ax, load_5m, YELLOW, lw=1.6, zorder=3.2)
series(ax, load_15m, BLUE, lw=1.6, zorder=3.3)
legend_table(43.3, 21.4, [361.2, 433.5, 497, 556.5], 518.7, [543, 566.7, 589.7], [531.3, 555.3, 578.3], 13.2, 565.6,
             load_names, [GREEN, YELLOW, BLUE], load_stats, clip=(505, 594))
scrollbar(565.6, 574.6, 508.3, 594, 518, 566)

# Disk R/W Data
ax = plot_axes(695.4, 1155.6, 356, 491, (760.5, 1143.5), ((0, 440.3), (1000, 364)), rw_ticks, rw_tick_labels)
series(ax, rw_write, PURPLE, fill=0.1, zorder=3)
series(ax, rw_read_disk, GREEN, zorder=3.1)
series(ax, rw_read_p2, BLUE, zorder=3.2)
series(ax, rw_zero_line, YELLOW, zorder=3.3)
series(ax, rw_read_p1, YELLOW, zorder=3.4)
rotated_label(607, 351, 'Bytes read (-) / write (+)')
legend_table(631, 608.8, [932.8, 1005, 1073.2, 1144.7], 518.7, [543, 566.7, 589.7], [531.3, 555.3, 578.3], 601, 1153.3,
             rw_names, [GREEN, YELLOW, BLUE], rw_stats, clip=(505, 594))
scrollbar(1153.3, 1162.7, 508.3, 594, 518, 566)

# Disk Space
ax = plot_axes(1231.4, 1745, 356, 491, (1303.3, 1731.5), ((0, 486.3), (100, 356)), space_ticks, space_tick_labels)
series(ax, space_tmp, BLUE)
series(ax, space_root, GREEN)
series(ax, space_mdl, YELLOW)
legend_table(1220.2, 1198.3, [1538, 1610.4, 1673.6, 1733], 518.7, [543, 566.7, 589.7], [531.3, 555.3, 578.3], 1190.4, 1742,
             space_names, [GREEN, YELLOW, BLUE], space_stats, clip=(505, 594))
scrollbar(1742, 1751.5, 508.3, 594, 518, 578)

# tooltip
top_layer.add_patch(FancyBboxPatch((1579.5, 403.3), 160.3, 107.4, boxstyle='round,pad=0,rounding_size=2',
                                   fc='#22252b', ec='#33363c', lw=0.8))
top_layer.text(1588.2, 417.7, tooltip_time, color=TITLE, fontsize=FONT, fontweight=500, va='center')
top_layer.plot([1580, 1739.5], [432.3, 432.3], color='#33363c', lw=0.8)
for y, name, color, value in zip([450, 471, 492], tooltip_names, [BLUE, GREEN, YELLOW], tooltip_values):
    top_layer.plot([1590, 1600], [y, y], color=color, lw=3, solid_capstyle='round')
    top_layer.text(1610.4, y, name, color='#85878f', fontsize=FONT, va='center')
    top_layer.text(1729.7, y, value, color=TITLE, fontsize=FONT, fontweight=500, va='center', ha='right')

# bottom row, cut off by the screenshot
ax = plot_axes(95.2, 567.5, 660.7, 790, (161.8, 555.4), ((20, 728.3), (40, 684.3)), iops_ticks, iops_tick_labels, xlabels=False)
series(ax, iops_write, PURPLE, lw=0.9)
rotated_label(20.7, 678, io_ylabel)

ax = plot_axes(638.2, 1155.6, 660.7, 790, (710.4, 1142.4), ((10, 741.3), (20, 667.3)), busy_ticks, busy_tick_labels, xlabels=False)
series(ax, busy_disk, GREEN, lw=1, start=9.83, fill=0.12)
series(ax, busy_p2, BLUE, lw=1, start=9.83, fill=0.1)

ax = plot_axes(1267.2, 1745, 660.7, 790, (1334.2, 1732.3), ((0, 750.7), (50, 682.3)), lat_ticks, lat_tick_labels, xlabels=False)
series(ax, lat_write, PURPLE, lw=1.6, fill=0.4)
series(ax, lat_read_p1, YELLOW, lw=1.4)
series(ax, lat_read, BLUE, lw=1.4)
series(ax, lat_write_p1, YELLOW, lw=1.4, zorder=3.5)
rotated_label(1196.8, 670, lat_ylabel)

fig.savefig('out.png', dpi=100, facecolor=PAGE)
